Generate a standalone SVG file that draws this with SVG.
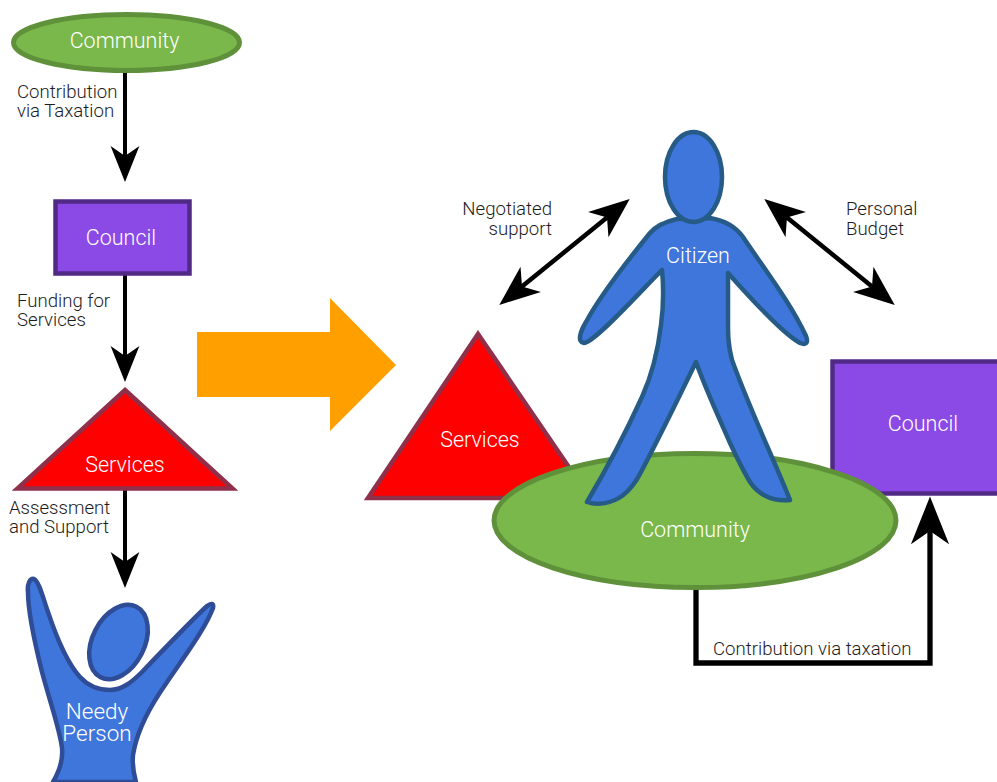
<svg xmlns="http://www.w3.org/2000/svg" width="997" height="782" viewBox="0 0 997 782">
<style>
text{font-family:"Roboto","Liberation Sans",sans-serif;font-weight:300}
.w{fill:#fff;font-size:21.5px;text-anchor:middle}
.l{fill:#1c1c1c;font-size:18.600px}
.g{fill:#7ab84c;stroke:#5f913b;stroke-width:5}
.p{fill:#8b4ae6;stroke:#512a86;stroke-width:4.500}
.r{fill:#ff0000;stroke:#8f2f4a;stroke-width:4.5;stroke-linejoin:miter}
.b{fill:#3f76dc;stroke-width:4.5;stroke-linejoin:round}
.c{fill:none;stroke:#000;stroke-width:4}
</style>
<defs>
<marker id="ah" viewBox="-3 -4 10 8" markerWidth="10" markerHeight="8" refX="0" refY="0" orient="auto-start-reverse" markerUnits="strokeWidth"><path d="M6.5,0L-2.5,-3.6L0,0L-2.5,3.6Z" fill="#000"/></marker>
</defs>
<rect width="997" height="782" fill="#fff"/>
<polygon id="shift-arrow" points="197,332 330,332 330,298 396,365 330,431 330,397 197,397" fill="#ffa000"/>
<g id="connectors">
<path class="c" marker-end="url(#ah)" d="M125,72V156"/>
<path class="c" marker-end="url(#ah)" d="M125,274V356"/>
<path class="c" marker-end="url(#ah)" d="M125,488V562"/>
<path class="c" style="stroke-width:4.5" marker-start="url(#ah)" marker-end="url(#ah)" d="M522,286.500L607,217.500"/>
<path class="c" style="stroke-width:4.5" marker-start="url(#ah)" marker-end="url(#ah)" d="M787,217.500L872,286.500"/>
<path class="c" style="stroke-width:5.300" marker-end="url(#ah)" d="M696,588V663H930V531"/>
</g>
<g id="community-top"><ellipse class="g" cx="126.500" cy="42.500" rx="113" ry="28"/><text class="w" x="124.500" y="48">Community</text></g>
<g id="council-left"><rect class="p" x="55.500" y="201.500" width="134" height="72"/><text class="w" x="121" y="245">Council</text></g>
<g id="services-left"><polygon class="r" points="125,390 232.500,488.500 17.500,488.500"/><text class="w" x="125" y="472">Services</text></g>
<g id="needy-person">
<ellipse class="b" style="stroke:#2f4c96" cx="118.500" cy="642" rx="26" ry="39.500" transform="rotate(27 118.500 642)"/>
<path class="b" style="stroke:#2f4c96" d="M28,592C27,584 30,578 34,579C39,581 43,598 48,612C58,642 68,664 80,677C90,688 100,690 110,690C122,690 132,682 142,672C165,648 190,622 207,606C211,603 214,603 213,608C205,630 180,662 159,694C146,714 136,736 133,755C132,766 134,775 136,782H53C60,770 63,758 62,748C60,730 50,702 42,672C34,640 28,612 28,592Z"/>
<text class="w" x="97" y="719" style="font-size:22.500px">Needy</text><text class="w" x="97" y="741" style="font-size:22.500px">Person</text>
</g>
<g id="services-right"><polygon class="r" points="478,334 590,498 368,498"/><text class="w" x="480" y="447">Services</text></g>
<g id="council-right"><rect class="p" x="832.500" y="361.500" width="175" height="132"/><text class="w" x="923" y="431">Council</text></g>
<g id="community-right"><ellipse class="g" cx="695" cy="520.500" rx="201" ry="67"/><text class="w" x="695" y="537">Community</text></g>
<g id="citizen">
<path class="b" style="stroke:#255b86" d="M677,219C664,222 656,226 650,233C628,260 600,296 586,322C580,332 577,342 584,343C594,343 640,292 662,270C664,290 663,310 661,325C658,350 652,375 642,397C626,432 606,470 587,502C598,506 612,503 622,496C630,490 636,482 641,472C660,436 680,395 696,362C706,390 720,420 730,443C738,460 744,472 750,482C758,494 772,502 790,500C772,455 750,410 732,360C728,345 728,335 728,320V273C752,300 785,335 800,343C805,345 809,344 806,336C790,302 765,270 743,237C735,226 722,220 710,218Z"/>
<ellipse class="b" style="stroke:#255b86" cx="693.500" cy="177" rx="28.500" ry="45"/>
<text class="w" x="698" y="263">Citizen</text>
</g>
<g id="labels">
<text class="l" x="17" y="98">Contribution</text><text class="l" x="17" y="117">via Taxation</text>
<text class="l" x="17" y="307">Funding for</text><text class="l" x="17" y="326">Services</text>
<text class="l" x="9" y="514">Assessment</text><text class="l" x="9" y="533">and Support</text>
<text class="l" x="552" y="215" text-anchor="end">Negotiated</text><text class="l" x="552" y="235" text-anchor="end">support</text>
<text class="l" x="846" y="215">Personal</text><text class="l" x="846" y="235">Budget</text>
<text class="l" x="713" y="655">Contribution via taxation</text>
</g>
</svg>
